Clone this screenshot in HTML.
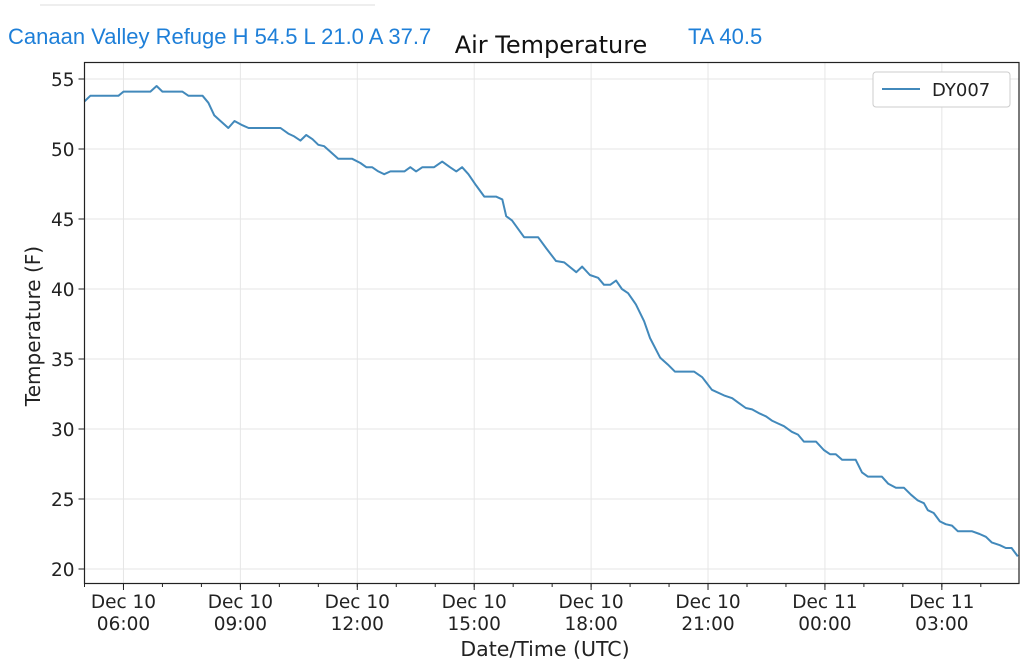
<!DOCTYPE html>
<html><head><meta charset="utf-8"><style>
body{margin:0;background:#fff;}
svg{display:block;font-family:"DejaVu Sans","Liberation Sans",sans-serif;}
</style></head><body>
<svg id="chart" width="1024" height="662" viewBox="0 0 1024 662">
<line x1="40" y1="5" x2="375" y2="5" stroke="#eee" stroke-width="2"/>
<text x="8" y="44" font-size="22" fill="#1e7fd8" font-family="Liberation Sans, sans-serif">Canaan Valley Refuge H 54.5 L 21.0 A 37.7</text>
<text x="551" y="53" font-size="24" fill="#111" text-anchor="middle">Air Temperature</text>
<text x="688" y="44" font-size="22" fill="#1e7fd8" font-family="Liberation Sans, sans-serif">TA 40.5</text>
<g id="grid"></g>
<g id="ticks"></g>
<path id="line" fill="none" stroke="#4289bb" stroke-width="2" stroke-linejoin="round"/>
<rect x="84.5" y="62.5" width="934.5" height="521" fill="none" stroke="#222" stroke-width="1.2"/>
<g>
<rect x="873" y="72" width="137" height="35" rx="3" fill="#fff" stroke="#ccc"/>
<line x1="882" y1="89" x2="920" y2="89" stroke="#4289bb" stroke-width="2"/>
<text x="932" y="96" font-size="18" fill="#222">DY007</text>
</g>
<text transform="translate(40,326) rotate(-90)" text-anchor="middle" font-size="20" fill="#222">Temperature (F)</text>
<text x="545" y="656" text-anchor="middle" font-size="20.5" fill="#222">Date/Time (UTC)</text>
</svg>
<script>
const hours=[5.00,5.15,5.87,6.00,6.69,6.85,7.00,7.51,7.67,8.03,8.18,8.33,8.49,8.69,8.85,9.05,9.21,10.03,10.23,10.38,10.54,10.69,10.85,11.00,11.15,11.31,11.51,11.87,12.08,12.23,12.38,12.54,12.69,12.85,13.21,13.36,13.51,13.67,13.97,14.18,14.38,14.54,14.69,14.85,15.05,15.26,15.56,15.72,15.82,15.97,16.28,16.64,16.85,17.10,17.31,17.62,17.77,17.97,18.18,18.33,18.49,18.64,18.79,18.95,19.15,19.36,19.51,19.77,19.97,20.15,20.64,20.85,21.10,21.41,21.62,21.77,21.97,22.13,22.33,22.49,22.64,22.79,22.95,23.15,23.31,23.46,23.77,23.97,24.13,24.28,24.44,24.79,24.95,25.10,25.46,25.62,25.82,26.03,26.21,26.38,26.54,26.64,26.79,26.95,27.10,27.26,27.41,27.77,27.97,28.13,28.28,28.49,28.64,28.79,28.95];
const temps=[53.4,53.8,53.8,54.1,54.1,54.5,54.1,54.1,53.8,53.8,53.3,52.4,52.0,51.5,52.0,51.7,51.5,51.5,51.1,50.9,50.6,51.0,50.7,50.3,50.2,49.8,49.3,49.3,49.0,48.7,48.7,48.4,48.2,48.4,48.4,48.7,48.4,48.7,48.7,49.1,48.7,48.4,48.7,48.2,47.4,46.6,46.6,46.4,45.2,44.9,43.7,43.7,42.9,42.0,41.9,41.2,41.6,41.0,40.8,40.3,40.3,40.6,40.0,39.7,38.9,37.7,36.5,35.1,34.6,34.1,34.1,33.7,32.8,32.4,32.2,31.9,31.5,31.4,31.1,30.9,30.6,30.4,30.2,29.8,29.6,29.1,29.1,28.5,28.2,28.2,27.8,27.8,26.9,26.6,26.6,26.1,25.8,25.8,25.3,24.9,24.7,24.2,24.0,23.4,23.2,23.1,22.7,22.7,22.5,22.3,21.9,21.7,21.5,21.5,20.9];
const yTicks=[20,25,30,35,40,45,50,55];
const xTickHours=[6,9,12,15,18,21,24,27];
const xTickDates=["Dec 10","Dec 10","Dec 10","Dec 10","Dec 10","Dec 10","Dec 11","Dec 11"];
const xTickTimes=["06:00","09:00","12:00","15:00","18:00","21:00","00:00","03:00"];

const NS="http://www.w3.org/2000/svg";
const X0=84.5,X1=1019,H0=5,H1=28.98;
const xs=h=>X0+(h-H0)/(H1-H0)*(X1-X0);
const ys=t=>79+(55-t)*14;
function mk(tag,attrs,parent){const e=document.createElementNS(NS,tag);for(const k in attrs)e.setAttribute(k,attrs[k]);parent.appendChild(e);return e;}
const grid=document.getElementById('grid'),ticks=document.getElementById('ticks');
yTicks.forEach(v=>{
  const y=ys(v);
  const g=mk('line',{x1:X0,x2:X1,y1:y,y2:y,stroke:'#e6e6e6','stroke-width':1},grid);
  
  
  mk('line',{x1:X0-6,x2:X0,y1:y,y2:y,stroke:'#222'},ticks);
  const t=mk('text',{x:X0-10,y:y+7,'text-anchor':'end','font-size':18.5,fill:'#222'},ticks);
  t.textContent=v;
  
  
});
for(let h=Math.ceil(H0);h<=H1;h++){
  mk('line',{x1:xs(h),x2:xs(h),y1:583,y2:587,stroke:'#222'},ticks);
}
xTickHours.forEach((h,i)=>{
  const x=xs(h);
  const g=mk('line',{x1:x,x2:x,y1:62,y2:583,stroke:'#e6e6e6','stroke-width':1},grid);
  
  
  mk('line',{x1:x,x2:x,y1:583,y2:590,stroke:'#222'},ticks);
  const t=mk('text',{x:x,y:608,'text-anchor':'middle','font-size':18.5,fill:'#222'},ticks);
  t.textContent=xTickDates[i];
  
  
  const t2=mk('text',{x:x,y:630,'text-anchor':'middle','font-size':18.5,fill:'#222'},ticks);
  t2.textContent=xTickTimes[i];
  
  
});
document.getElementById('line').setAttribute('d',hours.map((h,i)=>(i?'L':'M')+xs(h).toFixed(1)+' '+ys(temps[i]).toFixed(1)).join(' '));
</script>
</body></html>
